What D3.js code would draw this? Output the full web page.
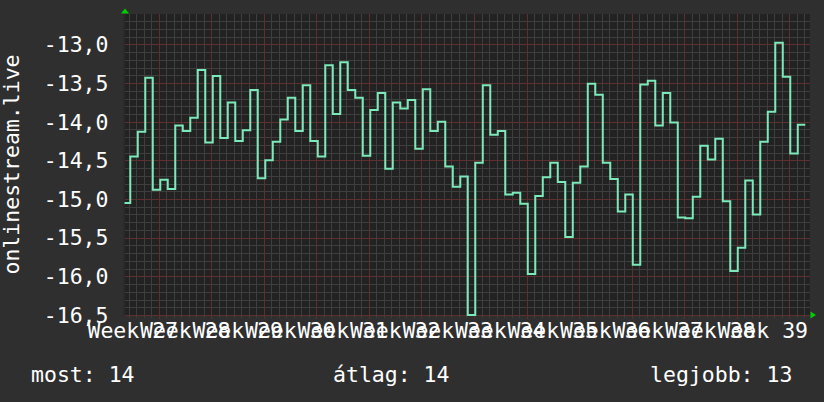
<!DOCTYPE html>
<html>
<head>
<meta charset="utf-8">
<script src="https://cdn.jsdelivr.net/npm/d3@7"></script>
<style>
  html, body { margin: 0; padding: 0; background: #2f2f2f; }
  svg { display: block; }
  text { font-family: "DejaVu Sans Mono", monospace; fill: #ffffff; }
</style>
</head>
<body>
<svg id="chart" width="824" height="402"></svg>
<script>
// ---- data (daily values) ----
const values = [
  -15.05, -14.45, -14.13, -13.43, -14.88, -14.75, -14.87, -14.05, -14.12, -13.95,
  -13.33, -14.27, -13.41, -14.21, -13.75, -14.25, -14.11, -13.59, -14.73, -14.50,
  -14.26, -13.97, -13.69, -14.12, -13.53, -14.25, -14.45, -13.27, -13.90, -13.23,
  -13.59, -13.69, -14.44, -13.85, -13.63, -14.61, -13.75, -13.83, -13.72, -14.35,
  -13.58, -14.12, -14.00, -14.58, -14.84, -14.71, -16.50, -14.53, -13.53, -14.17,
  -14.12, -14.94, -14.92, -15.06, -15.97, -14.96, -14.72, -14.53, -14.78, -15.49,
  -14.79, -14.58, -13.51, -13.65, -14.53, -14.74, -15.16, -14.94, -15.85, -13.52,
  -13.47, -14.05, -13.63, -14.01, -15.24, -15.25, -14.97, -14.31, -14.49, -14.22,
  -15.03, -15.93, -15.63, -14.76, -15.20, -14.26, -13.87, -12.98, -13.42, -14.41,
  -14.04
];
const firstDay = 2.17;            // day (from Monday of week 27) where first sample starts
const weeks = [27, 28, 29, 30, 31, 32, 33, 34, 35, 36, 37, 38, 39];
const yTicks = [-16.5, -16.0, -15.5, -15.0, -14.5, -14.0, -13.5, -13.0];
const seriesName = "onlinestream.live";
const legendLabels = ["most", "átlag", "legjobb"];

(function () {
const svg = d3.select("#chart");
const W = 824, H = 402;
const pL = 123.5, pR = 809.5, pT = 14, pB = 315;

const x = d3.scaleLinear().domain([2.267, 93.733]).range([pL, pR]);
const y = d3.scaleLinear().domain([-16.5, -12.607]).range([pB, pT]);

const loc = d3.formatLocale({decimal: ",", thousands: " ", grouping: [3], currency: ["", ""], minus: "-"});
const fmt = loc.format(".1f");

svg.append("rect").attr("width", W).attr("height", H).attr("fill", "#2f2f2f");
svg.append("rect").attr("x", 123).attr("y", pT)
  .attr("width", 687).attr("height", pB - pT + 1).attr("fill", "#222222");
svg.append("rect").attr("x", 123).attr("y", pT)
  .attr("width", 2).attr("height", pB - pT + 1).attr("fill", "#2a2a2a");

// ---- grid (dotted lines rendered as their blended tone) ----
const minorY = d3.range(-165, -125).map(d => d / 10)
  .filter(v => Math.abs(v * 2 - Math.round(v * 2)) > 1e-6 && y(v) >= pT);
const days = d3.range(3, 94).filter(d => d % 7 !== 0);
const majorDays = weeks.map((w, i) => 7 * (i + 1));
const grid = svg.append("g").attr("shape-rendering", "crispEdges");
const minorC = "#3e3e3e", majorC = "#5e2f2f";

grid.selectAll(".mh").data(minorY).join("rect")
  .attr("x", 125).attr("width", 685).attr("y", d => Math.round(y(d))).attr("height", 1)
  .attr("fill", minorC);
grid.selectAll(".mv").data(days).join("rect")
  .attr("x", d => Math.round(x(d))).attr("width", 1).attr("y", pT).attr("height", pB - pT + 3)
  .attr("fill", minorC);
grid.selectAll(".Mh").data(yTicks).join("rect")
  .attr("x", 125).attr("width", 685).attr("y", d => Math.round(y(d))).attr("height", 1)
  .attr("fill", majorC);
grid.selectAll(".Mv").data(majorDays).join("rect")
  .attr("x", d => Math.round(x(d))).attr("width", 1).attr("y", pT).attr("height", pB - pT + 4)
  .attr("fill", majorC);

// ---- series ----
svg.append("clipPath").attr("id", "clip").append("rect")
  .attr("x", pL + 1).attr("y", pT - 2).attr("width", pR - pL).attr("height", pB - pT + 4);
const pts = values.map((v, i) => [firstDay + i, v]);
pts.push([firstDay + values.length, values[values.length - 1]]);
const line = d3.line().x(d => x(d[0])).y(d => y(d[1])).curve(d3.curveStepAfter);
svg.append("path").attr("d", line(pts)).attr("clip-path", "url(#clip)")
  .attr("fill", "none").attr("stroke", "#7be9b9").attr("stroke-width", 2)
  .attr("stroke-linejoin", "miter");

// ---- arrows ----
svg.append("path")
  .attr("d", `M${pL - 2.5},13.5 L${pL + 1.5},8.5 L${pL + 5.5},13.5 Z`).attr("fill", "#00d000");
svg.append("path")
  .attr("d", `M${pR + 1},311.5 L${pR + 6.5},315 L${pR + 1},318.5 Z`).attr("fill", "#00d000");

// ---- labels ----
const fs = "21.5px";
svg.selectAll(".yl").data(yTicks).join("text")
  .attr("x", 108.5).attr("y", d => y(d) + 7.8)
  .attr("text-anchor", "end").style("font-size", fs)
  .text(d => fmt(d));

svg.selectAll(".xl").data(weeks).join("text")
  .attr("x", (d, i) => x(3.5 + 7 * i)).attr("y", 338)
  .attr("text-anchor", "middle").style("font-size", fs)
  .text(d => "Week " + d);

svg.append("text")
  .attr("transform", `translate(18.5,${(pT + pB) / 2}) rotate(-90)`)
  .attr("text-anchor", "middle").style("font-size", fs)
  .text(seriesName);

const last = Math.round(Math.abs(values[values.length - 1]));
const avg = Math.round(Math.abs(d3.mean(values)));
const best = Math.round(Math.abs(d3.max(values)));
const legendX = [31, 333, 650];
[last, avg, best].forEach((v, i) => {
  svg.append("text").attr("x", legendX[i]).attr("y", 382).style("font-size", fs)
    .text(legendLabels[i] + ": " + v);
});
})();
</script>
</body>
</html>
